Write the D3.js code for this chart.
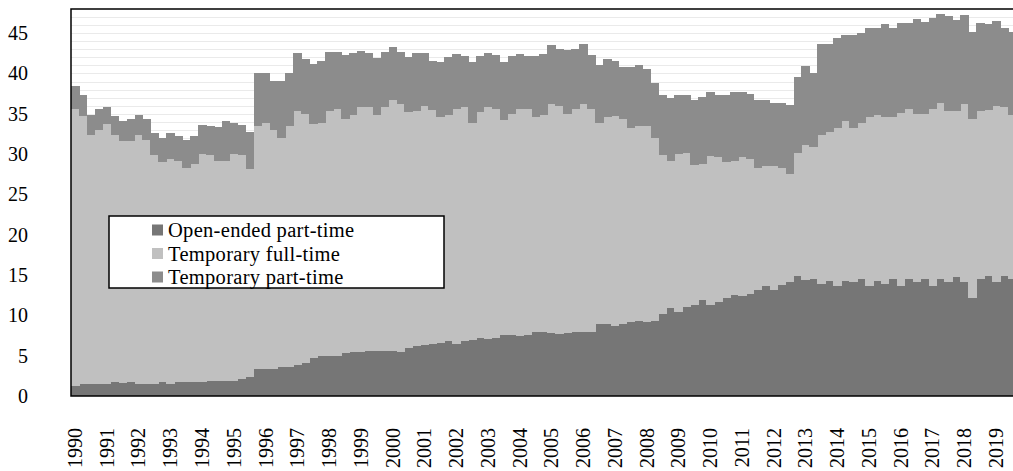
<!DOCTYPE html>
<html>
<head>
<meta charset="utf-8">
<script src="https://cdn.jsdelivr.net/npm/d3@7/dist/d3.min.js"></script>
<style>
body { margin: 0; background: #fff; }
svg text { font-family: "Liberation Serif", "Times New Roman", serif; fill: #000; }
</style>
</head>
<body>
<script>
var years = [1990,1991,1992,1993,1994,1995,1996,1997,1998,1999,2000,2001,2002,2003,2004,
             2005,2006,2007,2008,2009,2010,2011,2012,2013,2014,2015,2016,2017,2018,2019];
var quarters = ["Q1","Q2","Q3","Q4"];

// quarterly values, 1990Q1 .. 2019Q4
var openPartTime = [1.3,1.5,1.5,1.5, 1.5,1.7,1.6,1.7, 1.5,1.5,1.5,1.7, 1.5,1.7,1.7,1.7,
                    1.7,1.9,1.9,1.9, 1.9,2.1,2.3,3.3, 3.3,3.4,3.6,3.6, 3.9,4.1,4.7,4.9,
                    4.9,4.9,5.3,5.5, 5.5,5.6,5.6,5.6, 5.6,5.5,6.0,6.2, 6.3,6.5,6.6,6.8,
                    6.4,6.8,7.0,7.2, 7.1,7.2,7.6,7.6, 7.4,7.6,8.0,8.0, 7.8,7.7,7.8,8.0,
                    7.9,8.0,8.9,8.9, 8.7,8.9,9.2,9.3, 9.2,9.3,10.2,10.9, 10.4,11.1,11.3,11.9,
                    11.3,11.7,12.1,12.5, 12.4,12.7,13.2,13.6, 13.2,13.8,14.2,14.9, 14.4,14.5,13.9,14.3,
                    13.7,14.3,14.2,14.5, 13.7,14.3,13.9,14.5, 13.7,14.5,14.2,14.5, 13.7,14.5,14.2,14.7,
                    14.1,12.2,14.5,14.9, 14.1,14.9,14.5,14.6];
var tempFullTime = [34.3,33.2,30.9,31.5, 32.2,30.7,30.0,29.9, 30.9,30.3,28.4,27.3, 27.9,27.5,26.6,27.1,
                    28.3,28.0,27.3,27.3, 28.1,27.8,25.8,30.2, 30.5,29.6,28.4,29.9, 31.5,30.9,29.0,29.0,
                    30.5,30.7,29.1,29.4, 30.3,30.2,29.3,30.2, 31.1,30.7,29.2,29.2, 29.7,29.0,28.0,28.1,
                    29.2,29.0,26.9,28.0, 28.7,28.4,26.6,27.4, 28.2,28.0,26.6,26.9, 28.4,28.3,27.2,27.6,
                    28.3,27.6,25.0,25.7, 26.0,25.5,24.1,24.2, 24.3,22.7,19.7,18.3, 19.6,19.1,17.3,16.9,
                    18.5,17.9,16.9,16.7, 17.2,16.7,15.1,14.9, 15.3,14.5,13.3,15.3, 16.7,16.4,18.5,18.4,
                    19.6,19.8,19.1,19.4, 20.9,20.6,20.7,20.1, 21.4,21.1,20.8,20.5, 21.9,21.9,21.2,20.7,
                    22.1,22.2,20.9,20.6, 21.9,20.9,20.3,20.4];
var tempPartTime = [2.8,2.6,2.5,2.6, 2.1,2.3,2.5,2.7, 2.5,2.5,2.7,3.0, 3.2,3.1,3.4,3.5,
                    3.6,3.6,4.2,4.9, 3.8,3.7,4.7,6.6, 6.3,6.1,7.1,6.6, 7.1,6.8,7.5,7.7,
                    7.3,7.1,7.9,7.6, 7.0,6.7,7.0,6.9, 6.6,6.5,6.8,7.1, 6.6,6.1,6.8,7.1,
                    6.8,6.4,7.5,7.0, 6.8,6.7,7.2,7.2, 6.8,6.6,7.6,7.5, 7.3,7.1,7.9,7.4,
                    7.5,6.7,7.1,7.2, 6.9,6.4,7.5,7.5, 7.0,6.8,7.4,7.7, 7.3,7.1,8.1,8.3,
                    7.9,7.7,8.3,8.5, 8.1,8.1,8.4,8.2, 7.9,8.1,8.6,9.4, 9.8,9.2,11.3,11.0,
                    11.1,10.7,11.5,11.1, 11.0,10.7,11.5,11.1, 11.2,10.7,11.7,11.4, 11.3,11.0,11.7,11.2,
                    11.0,10.7,10.9,10.7, 10.5,9.8,10.4,10.4];

var seriesNames = ["Open-ended part-time", "Temporary full-time", "Temporary part-time"];
var seriesColors = ["#767676", "#c0c0c0", "#8c8c8c"];
var yTicks = [0,5,10,15,20,25,30,35,40,45];

var width = 1013, height = 471;
var plotLeft = 71, plotTop = 9, plotBottom = 396, step = 7.94;

var periods = [];
years.forEach(function(yr){
    quarters.forEach(function(q){ periods.push(yr + q); });
});

var rows = periods.map(function(p, i){
    return {period: p, open: openPartTime[i], full: tempFullTime[i], part: tempPartTime[i]};
});
var stacked = d3.stack().keys(["open","full","part"])(rows);

var x = d3.scaleBand().domain(periods).range([plotLeft, plotLeft + step * periods.length]).padding(0);
var y = d3.scaleLinear().domain([0,48]).range([plotBottom, plotTop]);

var svg = d3.select("body").append("svg")
            .attr("width", width).attr("height", height);

// faint minor gridlines
svg.append("g").selectAll("line").data(y.ticks(48).filter(function(d){ return d > 0 && d < 48; }))
   .enter().append("line")
   .attr("x1", plotLeft).attr("x2", width)
   .attr("y1", function(d){ return Math.round(y(d)) + 0.5; })
   .attr("y2", function(d){ return Math.round(y(d)) + 0.5; })
   .attr("stroke", "#eaeaea").attr("stroke-width", 1);

var layers = svg.append("g").selectAll("g").data(stacked).enter().append("g")
                .attr("fill", function(d, i){ return seriesColors[i]; });

layers.selectAll("rect").data(function(d){ return d; })
      .enter().append("rect")
      .attr("x", function(d){ return x(d.data.period); })
      .attr("width", x.bandwidth() + 0.6)
      .attr("y", function(d){ return y(d[1]); })
      .attr("height", function(d){ return y(d[0]) - y(d[1]); })
      .attr("shape-rendering", "crispEdges");

// y axis labels
var yAxis = svg.append("g").attr("transform", "translate(" + plotLeft + ",0)")
               .call(d3.axisLeft(y).tickValues(yTicks).tickSize(0).tickPadding(43));
yAxis.select(".domain").remove();
yAxis.selectAll("text").attr("font-size", 20).style("font-family", null);

// x axis labels, one per year
var xAxis = svg.append("g").attr("transform", "translate(0," + plotBottom + ")")
               .call(d3.axisBottom(x)
                     .tickValues(periods.filter(function(p){ return p.slice(4) == "Q1"; }))
                     .tickFormat(function(p){ return p.slice(0,4); })
                     .tickSize(0));
xAxis.select(".domain").remove();
xAxis.selectAll("text")
     .attr("transform", "rotate(-90)")
     .attr("text-anchor", "end")
     .attr("x", -32).attr("y", 0).attr("dy", "0.35em")
     .attr("font-size", 20).style("font-family", null);

// plot frame
svg.append("path")
   .attr("d", "M" + width + "," + plotTop + "H" + plotLeft + "V" + plotBottom + "H" + width)
   .attr("fill", "none").attr("stroke", "#000").attr("stroke-width", 1.5);

// legend
var lg = svg.append("g").attr("transform", "translate(109,216)");
lg.append("rect").attr("width", 335).attr("height", 72)
  .attr("fill", "#fff").attr("stroke", "#000").attr("stroke-width", 1.5);
var items = lg.selectAll(".item").data(seriesNames).enter().append("g").classed("item", true)
              .attr("transform", function(d, i){ return "translate(43," + (14 + i * 23.5) + ")"; });
items.append("rect").attr("x", 0).attr("y", -5.5).attr("width", 11).attr("height", 11)
     .attr("fill", function(d, i){ return seriesColors[i]; });
items.append("text").attr("x", 16).attr("dy", "0.35em").attr("font-size", 20.5)
     .attr("letter-spacing", 0.3)
     .text(function(d){ return d; });
</script>
</body>
</html>
